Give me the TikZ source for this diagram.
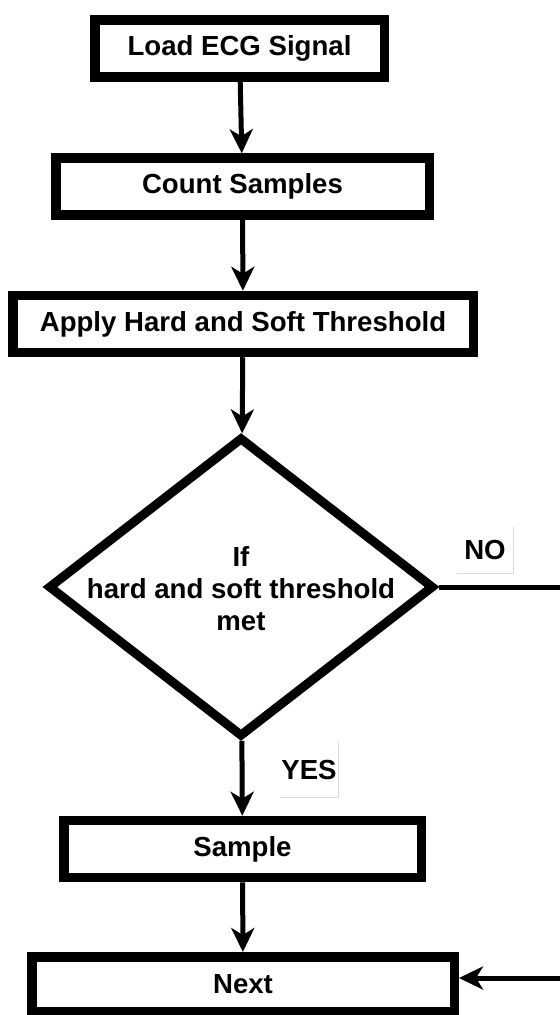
\documentclass[tikz,border=0pt]{standalone}
\usepackage{fontspec}
\setmainfont{Liberation Sans}
\usepackage{tikz}
\usetikzlibrary{arrows.meta,positioning,calc,shapes.geometric}

\begin{document}
\begin{tikzpicture}[x=0.5pt, y=-0.5pt,
	every node/.style={font=\fontsize{13.8}{16}\selectfont\bfseries},
	stepbox/.style={draw, line width=4.75pt, rectangle, inner sep=0pt, minimum height=28.5pt},
	decision/.style={draw, line width=4.5pt, diamond, inner sep=0pt, minimum width=193pt, minimum height=150pt},
	conn/.style={line width=2.5pt, -{Stealth[length=12pt, width=11.5pt, inset=3.5pt]}},
	tag/.style={inner sep=0pt},
	tagline/.style={draw=gray!30, line width=0.6pt}]
	\useasboundingbox (0,0) rectangle (560,1015);
	% process boxes
	\node[stepbox, minimum width=144.75pt] (load) at (239.5,48.5) {Load ECG Signal};
	\node[stepbox, minimum width=186.75pt] (count) at (242.5,186.5) {Count Samples};
	\node[stepbox, minimum width=230.25pt] (apply) at (243,324) {Apply Hard and Soft Threshold};
	\node[decision] (dec) at (241,587) {};
	\node[align=center] (dectxt) at (241,589) {If\\hard and soft threshold\\met};
	\node[stepbox, minimum width=178.75pt] (sample) at (242.5,849) {Sample};
	\node[stepbox, minimum width=211.25pt, minimum height=27.25pt] (next) at (243,984) {Next};
	% branch labels
	\node[tag, minimum width=28pt, minimum height=23pt] (no) at (485,550) {NO};
	\node[tag, minimum width=29pt, minimum height=27.5pt] (yes) at (309,769.5) {YES};
	\draw[tagline] (no.north east) -- (no.south east) -- (no.south west);
	\draw[tagline] (yes.north east) -- (yes.south east) -- (yes.south west);
	% connectors
	\draw[conn] (load) -- (count);
	\draw[conn] (count) -- (apply);
	\draw[conn] (apply) -- (dec);
	\draw[conn] (dec) -- (sample);
	\draw[conn] (sample) -- (next);
	\draw[conn] (dec.east) -- ++(160,0) |- ([yshift=3pt]next.east);
\end{tikzpicture}
\end{document}
